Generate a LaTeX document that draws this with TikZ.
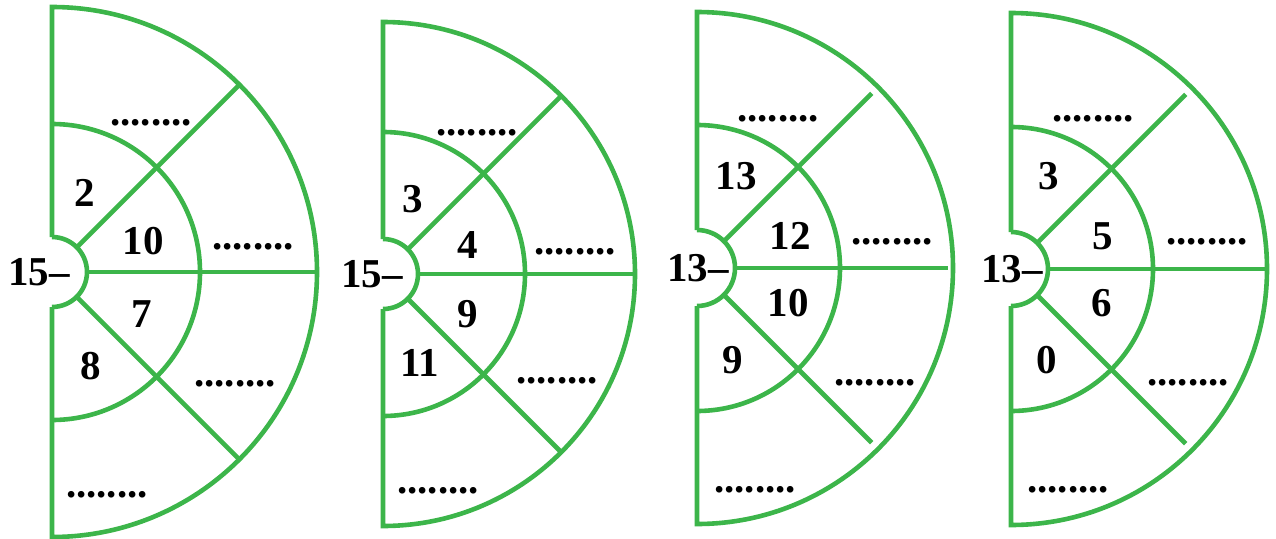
\documentclass[tikz,border=0pt]{standalone}
\usepackage{fontspec}
\setmainfont{Liberation Serif}
\definecolor{ringgreen}{RGB}{60,181,74}
\tikzset{
  ring/.style={draw=ringgreen,line width=2.3pt},
  num/.style={font=\fontsize{20.5}{24}\selectfont\bfseries,inner sep=0pt},
  blank/.style={font=\fontsize{20.5}{24}\selectfont\bfseries,inner sep=0pt},
}

\begin{document}
\begin{tikzpicture}[x=0.5pt,y=0.5pt]
  \useasboundingbox (0,0) rectangle (1276,538);

  % half discs: centre, outer / middle / inner radius, end of slanted and flat spokes
  \foreach \cx/\cy/\R/\m/\r/\e/\h in {52/266/265/148/35/265/265,
                                      383/264/252/142/35/252/252,
                                      697/270/256/143/38/247/251,
                                      1011/269/256/142/37/247/256}{
    \draw[ring] (\cx,\cy+\r) -- (\cx,\cy+\R)
      arc[start angle=90,end angle=-90,radius=\R] -- (\cx,\cy-\r);
    \draw[ring] (\cx,\cy+\m) arc[start angle=90,end angle=-90,radius=\m];
    \draw[ring] (\cx,\cy+\r) arc[start angle=90,end angle=-90,radius=\r];
    % spokes
    \draw[ring] ([shift={(45:\r)}]\cx,\cy) -- ([shift={(45:\e)}]\cx,\cy);
    \draw[ring] ([shift={(-45:\r)}]\cx,\cy) -- ([shift={(-45:\e)}]\cx,\cy);
    \draw[ring] ([shift={(0:\r)}]\cx,\cy) -- ([shift={(0:\h)}]\cx,\cy);
  }

  % --- first disc
  \node[num,anchor=east] (start1) at (70,266) {15–};
  \node[blank] (top1)  at (151,415) {........};
  \node[num]   (a1)    at (85,345)  {2};
  \node[num]   (b1)    at (143,297) {10};
  \node[blank] (mid1)  at (253,291) {........};
  \node[num]   (c1)    at (142,224) {7};
  \node[num]   (d1)    at (91,172)  {8};
  \node[blank] (low1)  at (235,154) {........};
  \node[blank] (bot1)  at (107,43)  {........};

  % --- second disc
  \node[num,anchor=east] (start2) at (403,264) {15–};
  \node[blank] (top2)  at (477,405) {........};
  \node[num]   (a2)    at (413,339) {3};
  \node[num]   (b2)    at (468,293) {4};
  \node[blank] (mid2)  at (575,286) {........};
  \node[num]   (c2)    at (468,224) {9};
  \node[num]   (d2)    at (420,175) {11};
  \node[blank] (low2)  at (557,157) {........};
  \node[blank] (bot2)  at (438,47)  {........};

  % --- third disc
  \node[num,anchor=east] (start3) at (729,270) {13–};
  \node[blank] (top3)  at (778,419) {........};
  \node[num]   (a3)    at (736,362) {13};
  \node[num]   (b3)    at (790,302) {12};
  \node[blank] (mid3)  at (892,296) {........};
  \node[num]   (c3)    at (788,235) {10};
  \node[num]   (d3)    at (733,178) {9};
  \node[blank] (low3)  at (875,155) {........};
  \node[blank] (bot3)  at (755,48)  {........};

  % --- fourth disc
  \node[num,anchor=east] (start4) at (1043,269) {13–};
  \node[blank] (top4)  at (1093,419) {........};
  \node[num]   (a4)    at (1049,362) {3};
  \node[num]   (b4)    at (1103,302) {5};
  \node[blank] (mid4)  at (1207,296) {........};
  \node[num]   (c4)    at (1102,235) {6};
  \node[num]   (d4)    at (1047,178) {0};
  \node[blank] (low4)  at (1188,155) {........};
  \node[blank] (bot4)  at (1068,48)  {........};
\end{tikzpicture}
\end{document}
